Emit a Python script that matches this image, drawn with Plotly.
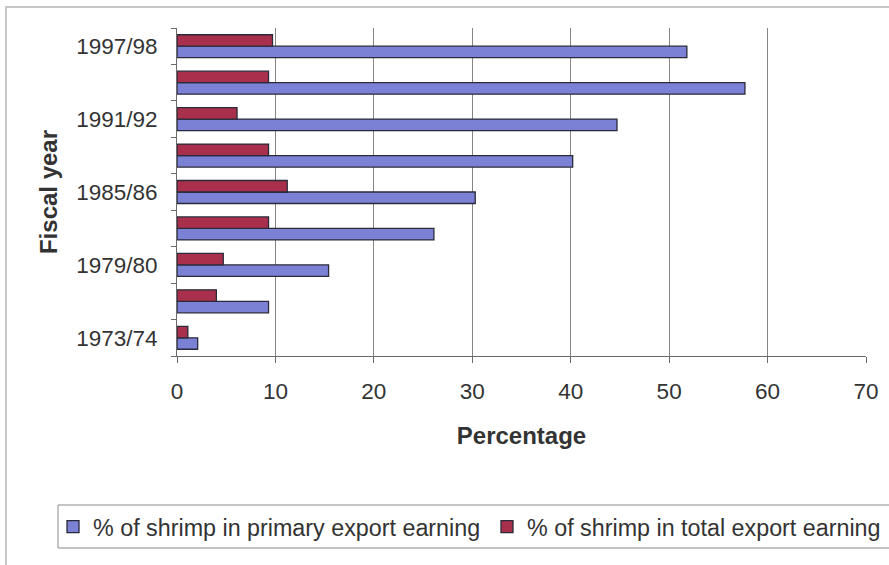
import plotly.graph_objects as go

# ---- data ----
years = ["1973/74", "1976/77", "1979/80", "1982/83", "1985/86",
         "1988/89", "1991/92", "1994/95", "1997/98"]
year_labels = ["1973/74", "", "1979/80", "", "1985/86",
               "", "1991/92", "", "1997/98"]
primary_share = [2.1, 9.3, 15.4, 26.1, 30.3, 40.2, 44.7, 57.7, 51.8]
total_share = [1.1, 4.0, 4.7, 9.3, 11.2, 9.3, 6.1, 9.3, 9.7]
x_ticks = [0, 10, 20, 30, 40, 50, 60, 70]

series_names = ["% of shrimp in primary export earning",
                "% of shrimp in total export earning"]

# ---- geometry (pixels) ----
W, H = 889, 565
L, R, T, B = 177, 866, 28, 356
pw, ph = R - L, B - T


def px(x):
    return (x - L) / pw


def py(y):
    return (B - y) / ph


FONT = "Liberation Sans, Arial, sans-serif"
TXT = "#333333"

fig = go.Figure()
fig.add_trace(go.Bar(
    y=years, x=primary_share, orientation="h", name=series_names[0],
    marker=dict(color="#7b82d6", line=dict(color="#2a2a3a", width=1.3)),
    legend="legend",
))
fig.add_trace(go.Bar(
    y=years, x=total_share, orientation="h", name=series_names[1],
    marker=dict(color="#a8304c", line=dict(color="#2a2a3a", width=1.3)),
    legend="legend2",
))

leg_common = dict(
    orientation="h", xanchor="left", yanchor="middle", y=py(527),
    borderwidth=0, bgcolor="rgba(0,0,0,0)",
    font=dict(family=FONT, size=23.3, color=TXT), itemwidth=30,
)

fig.update_layout(
    width=W, height=H,
    margin=dict(l=L, r=W - R, t=T, b=H - B, autoexpand=False),
    paper_bgcolor="white", plot_bgcolor="white",
    barmode="group", bargap=0.37, bargroupgap=0,
    font=dict(family=FONT, size=22.5, color=TXT),
    showlegend=True,
    legend=dict(x=px(53), **leg_common),
    legend2=dict(x=px(487), **leg_common),
    xaxis=dict(
        range=[0, 70], tickvals=x_ticks, ticktext=[str(v) for v in x_ticks],
        showgrid=True, gridcolor="#858585", gridwidth=1,
        showline=True, linecolor="#6a6a6a", linewidth=1,
        ticks="outside", ticklen=6, tickcolor="#6a6a6a",
        ticklabelstandoff=9,
        zeroline=False,
        title=dict(text="<b>Percentage</b>", standoff=24,
                   font=dict(family=FONT, size=24, color=TXT)),
        fixedrange=True,
    ),
    yaxis=dict(
        type="category", categoryorder="array", categoryarray=years,
        tickvals=years, ticktext=year_labels, tickson="boundaries",
        showgrid=False,
        showline=True, linecolor="#6a6a6a", linewidth=1,
        ticks="outside", ticklen=5, tickcolor="#6a6a6a",
        ticklabelstandoff=14,
        title=dict(text="<b>Fiscal year</b>", standoff=11,
                   font=dict(family=FONT, size=24, color=TXT)),
        fixedrange=True,
    ),
    shapes=[
        # outer chart frame
        dict(type="rect", xref="paper", yref="paper",
             x0=px(6), x1=px(W + 20), y0=py(H + 20), y1=py(7),
             line=dict(color="#b5b5b5", width=1.5), fillcolor="rgba(0,0,0,0)",
             layer="below"),
        # legend box
        dict(type="rect", xref="paper", yref="paper",
             x0=px(58), x1=px(W + 20), y0=py(548), y1=py(505),
             line=dict(color="#8a8a8a", width=1), fillcolor="rgba(0,0,0,0)",
             layer="below"),
    ],
)

fig.write_html("out.html", config={"displayModeBar": False},
               post_script="document.body.style.margin='0';document.body.style.overflow='hidden';")
